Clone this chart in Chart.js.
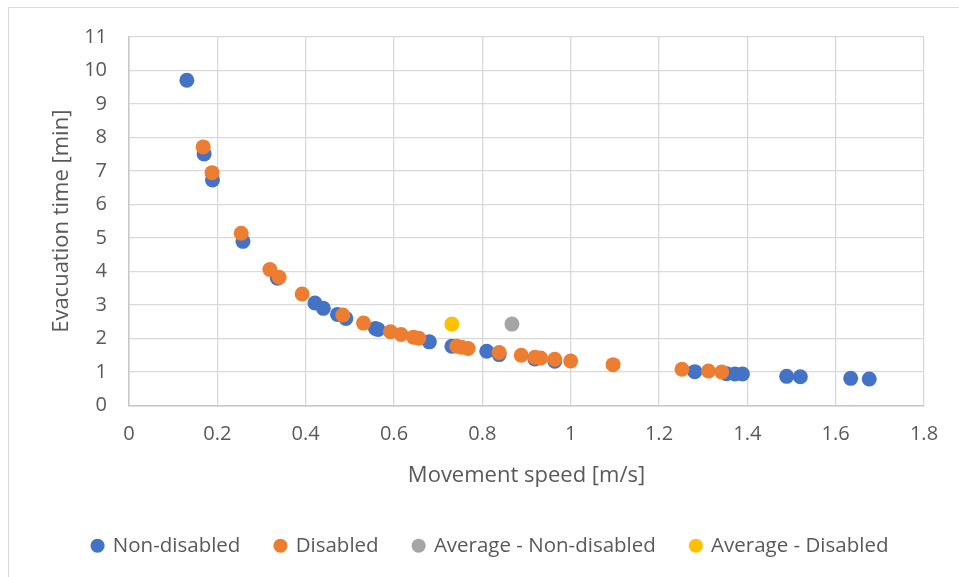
<!DOCTYPE html>
<html>
<head>
<meta charset="utf-8">
<script src="https://cdn.jsdelivr.net/npm/chart.js@4.4.0/dist/chart.umd.min.js"></script>
<style>
    html, body { margin: 0; padding: 0; background: #fff; }
    #wrap { position: relative; width: 959px; height: 577px; overflow: hidden; }
    #frame { position: absolute; left: 8px; top: 7px; width: 1000px; height: 1000px;
             border: 1px solid #d9d9d9; box-sizing: border-box; }
    canvas { position: absolute; left: 0; top: 0; }
</style>
</head>
<body>
<div id="wrap">
    <div id="frame"></div>
    <canvas id="evacChart" width="959" height="577"></canvas>
</div>
<script>
// values
const nonDisabledSpeed = [0.131, 0.170, 0.189, 0.258, 0.336, 0.421, 0.440, 0.472, 0.491, 0.558, 0.564, 0.680, 0.731,
    0.810, 0.838, 0.919, 0.964, 1.281, 1.353, 1.372, 1.389, 1.489, 1.520, 1.634, 1.676];
const nonDisabledTime = [9.71, 7.51, 6.73, 4.90, 3.80, 3.06, 2.90, 2.72, 2.60, 2.30, 2.27, 1.90, 1.77,
    1.62, 1.52, 1.39, 1.32, 1.01, 0.95, 0.94, 0.94, 0.87, 0.86, 0.81, 0.79];

const disabledSpeed = [0.168, 0.188, 0.254, 0.319, 0.340, 0.392, 0.484, 0.531, 0.592, 0.616, 0.644, 0.656, 0.742,
    0.753, 0.768, 0.838, 0.888, 0.919, 0.932, 0.964, 1.000, 1.096, 1.252, 1.312, 1.342];
const disabledTime = [7.72, 6.95, 5.14, 4.06, 3.83, 3.33, 2.70, 2.46, 2.20, 2.12, 2.04, 2.01, 1.77,
    1.74, 1.70, 1.58, 1.50, 1.44, 1.42, 1.38, 1.33, 1.22, 1.08, 1.03, 1.00];

const avgNonDisabledSpeed = [0.867];
const avgNonDisabledTime = [2.43];
const avgDisabledSpeed = [0.731];
const avgDisabledTime = [2.43];

const xTickLabels = ["0", "0.2", "0.4", "0.6", "0.8", "1", "1.2", "1.4", "1.6", "1.8"];
const yTickLabels = ["0", "1", "2", "3", "4", "5", "6", "7", "8", "9", "10", "11"];

const toPoints = (xs, ys) => xs.map((x, i) => ({ x: x, y: ys[i] }));

const textColor = "#595959";
const font = "'Open Sans', sans-serif";

// legend in the original sits centred on the whole frame, not on the plot
const shiftLegend = {
    id: "shiftLegend",
    afterLayout(chart) {
        if (!chart.legend) return;
        chart.legend.left += 24;
        chart.legend.right += 24;
    },
};

document.addEventListener("DOMContentLoaded", () => {
    if (typeof Chart === "undefined") return;

    const ctx = document.getElementById("evacChart");
    new Chart(ctx, {
        type: "scatter",
        data: {
            datasets: [
                {
                    label: "Non-disabled",
                    data: toPoints(nonDisabledSpeed, nonDisabledTime),
                    backgroundColor: "#4472C4",
                    order: 4,
                },
                {
                    label: "Disabled",
                    data: toPoints(disabledSpeed, disabledTime),
                    backgroundColor: "#ED7D31",
                    order: 3,
                },
                {
                    label: "Average - Non-disabled",
                    data: toPoints(avgNonDisabledSpeed, avgNonDisabledTime),
                    backgroundColor: "#A5A5A5",
                    order: 2,
                },
                {
                    label: "Average - Disabled",
                    data: toPoints(avgDisabledSpeed, avgDisabledTime),
                    backgroundColor: "#FFC000",
                    order: 1,
                },
            ],
        },
        options: {
            responsive: false,
            animation: false,
            events: [],
            elements: { point: { radius: 7.5, borderWidth: 0, pointStyle: "circle" } },
            layout: { padding: { left: 9, top: 37, right: 35, bottom: 11 } },
            scales: {
                x: {
                    type: "linear",
                    min: 0,
                    max: 1.8,
                    afterFit: (scale) => { scale.height = 95; },
                    ticks: {
                        stepSize: 0.2,
                        padding: 17,
                        color: textColor,
                        font: { family: font, size: 20 },
                        callback: (v, i) => xTickLabels[i],
                    },
                    grid: { color: "#d9d9d9", lineWidth: 1.3, drawTicks: false },
                    border: { color: "#c8c8c8", width: 1.5 },
                    title: {
                        display: true,
                        text: "Movement speed [m/s]",
                        color: textColor,
                        font: { family: font, size: 22 },
                        padding: { top: 0, bottom: 12 },
                    },
                },
                y: {
                    min: 0,
                    max: 11,
                    afterFit: (scale) => { scale.width = 120; },
                    ticks: {
                        stepSize: 1,
                        padding: 22,
                        color: textColor,
                        font: { family: font, size: 20 },
                        callback: (v, i) => yTickLabels[i],
                    },
                    grid: { color: "#d9d9d9", lineWidth: 1.3, drawTicks: false },
                    border: { color: "#c8c8c8", width: 1.5 },
                    title: {
                        display: true,
                        text: "Evacuation time [min]",
                        color: textColor,
                        font: { family: font, size: 22 },
                        padding: { top: 40, bottom: 0 },
                    },
                },
            },
            plugins: {
                tooltip: { enabled: false },
                legend: {
                    position: "bottom",
                    labels: {
                        usePointStyle: true,
                        boxWidth: 10,
                        boxHeight: 10,
                        padding: 35,
                        color: textColor,
                        font: { family: font, size: 20.5 },
                        sort: (a, b) => a.datasetIndex - b.datasetIndex,
                    },
                },
            },
        },
        plugins: [shiftLegend],
    });
});
</script>
</body>
</html>
